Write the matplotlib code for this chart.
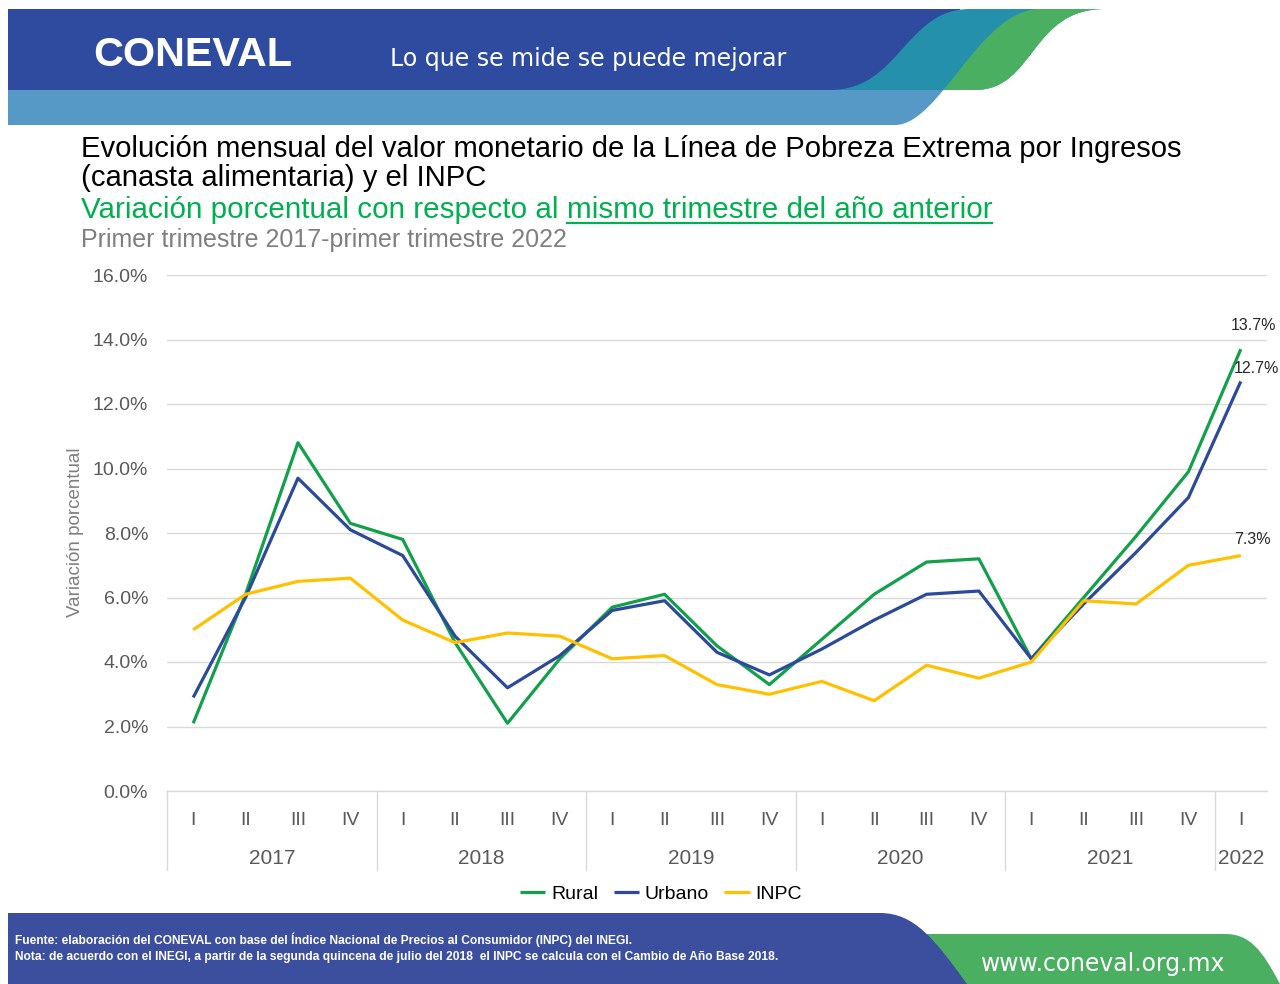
import matplotlib
matplotlib.use('Agg')
import matplotlib.pyplot as plt
from matplotlib.path import Path
from matplotlib.patches import PathPatch, Rectangle
from matplotlib import font_manager, transforms
from matplotlib.lines import Line2D

# ---------------- data ----------------
quarters = ['I', 'II', 'III', 'IV'] * 5 + ['I']
years = ['2017', '2018', '2019', '2020', '2021', '2022']
year_quarters = [4, 4, 4, 4, 4, 1]
rural = [2.1, 6.1, 10.8, 8.3, 7.8, 4.6, 2.1, 4.1, 5.7, 6.1, 4.5, 3.3,
         4.7, 6.1, 7.1, 7.2, 4.1, 6.0, 7.9, 9.9, 13.7]
urbano = [2.9, 6.0, 9.7, 8.1, 7.3, 4.8, 3.2, 4.2, 5.6, 5.9, 4.3, 3.6,
          4.4, 5.3, 6.1, 6.2, 4.1, 5.8, 7.4, 9.1, 12.7]
inpc = [5.0, 6.1, 6.5, 6.6, 5.3, 4.6, 4.9, 4.8, 4.1, 4.2, 3.3, 3.0,
        3.4, 2.8, 3.9, 3.5, 4.0, 5.9, 5.8, 7.0, 7.3]
yticks = [0, 2, 4, 6, 8, 10, 12, 14, 16]


def has_font(name):
    try:
        font_manager.findfont(font_manager.FontProperties(family=name),
                              fallback_to_default=False)
        return True
    except Exception:
        return False


SANS = 'Liberation Sans' if has_font('Liberation Sans') else 'DejaVu Sans'
NARROW = 'Liberation Sans Narrow' if has_font('Liberation Sans Narrow') else SANS
plt.rcParams['font.family'] = [SANS, 'DejaVu Sans']

W, H = 1280, 984
fig = plt.figure(figsize=(W / 100, H / 100), dpi=100)
bg = fig.add_axes([0, 0, 1, 1])
bg.set_xlim(0, W)
bg.set_ylim(H, 0)
bg.axis('off')
bg.set_zorder(0)
renderer = fig.canvas.get_renderer()

M, C, L, Z = Path.MOVETO, Path.CURVE4, Path.LINETO, Path.CLOSEPOLY


def add_path(verts, codes, color, clip=None, z=1):
    p = PathPatch(Path(verts, codes), facecolor=color, edgecolor='none', zorder=z)
    bg.add_patch(p)
    if clip is not None:
        r = Rectangle((clip[0], clip[1]), clip[2], clip[3], transform=bg.transData)
        p.set_clip_path(r)
    return p


# ---------------- header ----------------
bg.add_patch(Rectangle((8, 9), 952, 81, facecolor='#2E4B9F', edgecolor='none', zorder=1))
# light blue band
add_path([(8, 125), (895, 125), (940, 125), (980, 9), (1040, 9), (8, 9), (8, 125)],
         [M, L, C, C, C, L, Z], '#5699C6', clip=(0, 90, W, 35), z=1)
# teal wave
add_path([(830, 90), (900, 90), (905, 9), (970, 9), (1105, 9), (1030, 9), (1035, 90),
          (975, 90), (830, 90)],
         [M, C, C, C, L, C, C, C, Z], '#2590AB', z=2)
# green wave
add_path([(895, 125), (940, 125), (980, 9), (1040, 9), (1105, 9), (1030, 9), (1035, 90),
          (975, 90), (975, 125), (895, 125)],
         [M, C, C, C, L, C, C, C, L, Z], '#4BAF62', clip=(0, 0, W, 90), z=3)

# ---------------- footer ----------------
add_path([(900, 984), (900, 934), (1225, 934), (1250, 934), (1262, 950), (1280, 984),
          (900, 984)], [M, L, L, C, C, C, Z], '#4BAF62', z=1)
add_path([(8, 913), (880, 913), (915, 913), (935, 940), (967, 984), (8, 984), (8, 913)],
         [M, L, C, C, C, L, Z], '#3C4E9E', z=2)


def fit(x, y, s, width, size0=20, **kw):
    t = bg.text(x, y, s, fontsize=size0, **kw)
    w = t.get_window_extent(renderer=renderer).width
    t.set_fontsize(size0 * width / w)
    return t


fit(93, 66, 'CONEVAL', 199, family=NARROW, weight='bold', color='white',
    va='baseline', zorder=5)
fit(390, 66, 'Lo que se mide se puede mejorar', 398, family='DejaVu Sans',
    color='white', va='baseline', zorder=5)

# ---------------- titles ----------------
t1 = fit(81, 157, 'Evolución mensual del valor monetario de la Línea de Pobreza Extrema por Ingresos',
         1097, family=NARROW, color='black', va='baseline')
bg.text(81, 186, '(canasta alimentaria) y el INPC', fontsize=t1.get_fontsize(),
        family=NARROW, color='black', va='baseline')

part1 = 'Variación porcentual con respecto al '
part2 = 'mismo trimestre del año anterior'
tf = fit(81, 218, part1 + part2, 909, family=NARROW, color='#00B050', va='baseline')
fs3 = tf.get_fontsize()
wfull = tf.get_window_extent(renderer=renderer).width
tf.remove()
bg.text(81, 218, part1.rstrip(), fontsize=fs3, family=NARROW, color='#00B050', va='baseline')
t3b = bg.text(0, 218, part2, fontsize=fs3, family=NARROW, color='#00B050', va='baseline')
w2 = t3b.get_window_extent(renderer=renderer).width
x2 = 81 + wfull - w2
t3b.set_x(x2)
bg.plot([x2, x2 + w2], [222.5, 222.5], color='#00B050', lw=1.6)

fit(81, 247, 'Primer trimestre 2017-primer trimestre 2022', 486, family=NARROW,
    color='#7F7F7F', va='baseline')

# footer texts
fit(15, 944, 'Fuente: elaboración del CONEVAL con base del Índice Nacional de Precios al Consumidor (INPC) del INEGI.',
    613, family=NARROW, weight='bold', color='white', va='baseline', zorder=5)
fit(15, 960, 'Nota: de acuerdo con el INEGI, a partir de la segunda quincena de julio del 2018  el INPC se calcula con el Cambio de Año Base 2018.',
    757, family=NARROW, weight='bold', color='white', va='baseline', zorder=5)
fit(980, 971, 'www.coneval.org.mx', 245, family='DejaVu Sans', color='white',
    va='baseline', zorder=5)

# ---------------- chart ----------------
ax = fig.add_axes([167 / W, (H - 791) / H, 1100 / W, 516 / H])
ax.set_zorder(2)
ax.patch.set_alpha(0)
x = list(range(len(quarters)))
l1, = ax.plot(x, rural, color='#12A04B', lw=2.3, label='Rural', solid_capstyle='butt')
l2, = ax.plot(x, urbano, color='#2C4A9A', lw=2.3, label='Urbano', solid_capstyle='butt')
l3, = ax.plot(x, inpc, color='#FFC000', lw=2.3, label='INPC', solid_capstyle='butt')
ax.set_xlim(-0.5, len(quarters) - 0.5)
ax.set_ylim(0, 16)
ax.set_yticks(yticks)
ax.set_yticklabels([f'{v:.1f}%' for v in yticks])
ax.tick_params(axis='y', length=0, pad=13.5, labelsize=14, labelcolor='#595959')
ax.set_xticks(x)
ax.set_xticklabels(quarters)
ax.tick_params(axis='x', length=0, pad=15, labelsize=14, labelcolor='#595959')
for lbl in ax.get_xticklabels():
    lbl.set_family(NARROW)
ax.grid(axis='y', color='#D9D9D9', lw=1)
ax.set_axisbelow(True)
for s in ['top', 'right', 'left']:
    ax.spines[s].set_visible(False)
ax.spines['bottom'].set_color('#D9D9D9')
ax.spines['bottom'].set_linewidth(1)

bg.text(75, 532, 'Variación porcentual', rotation=90, ha='center', va='center',
        fontsize=13.5, color='#7F7F7F')

trans = transforms.blended_transform_factory(ax.transData, bg.transData)
start = 0
for yr, n in zip(years, year_quarters):
    ax.add_line(Line2D([start - 0.5, start - 0.5], [791, 870], transform=trans,
                       color='#D9D9D9', lw=1, clip_on=False))
    ax.text(start + (n - 1) / 2, 864, yr, transform=trans, ha='center', va='baseline',
            fontsize=15, family=NARROW, color='#595959')
    start += n

# end labels
for series, off in [(rural, (13, 24)), (urbano, (16, 13)), (inpc, (12, 16))]:
    ax.annotate(f'{series[-1]:.1f}%', xy=(x[-1], series[-1]), xytext=off,
                textcoords='offset pixels', ha='center', va='center',
                fontsize=11.5, color='#262626', annotation_clip=False)

ax.legend(handles=[l1, l2, l3], loc='center', bbox_to_anchor=(661, 894),
          bbox_transform=bg.transData, ncol=3, frameon=False,
          prop={'family': NARROW, 'size': 14}, handlelength=1.3,
          handletextpad=0.3, columnspacing=0.8)

fig.savefig('out.png', dpi=100)
